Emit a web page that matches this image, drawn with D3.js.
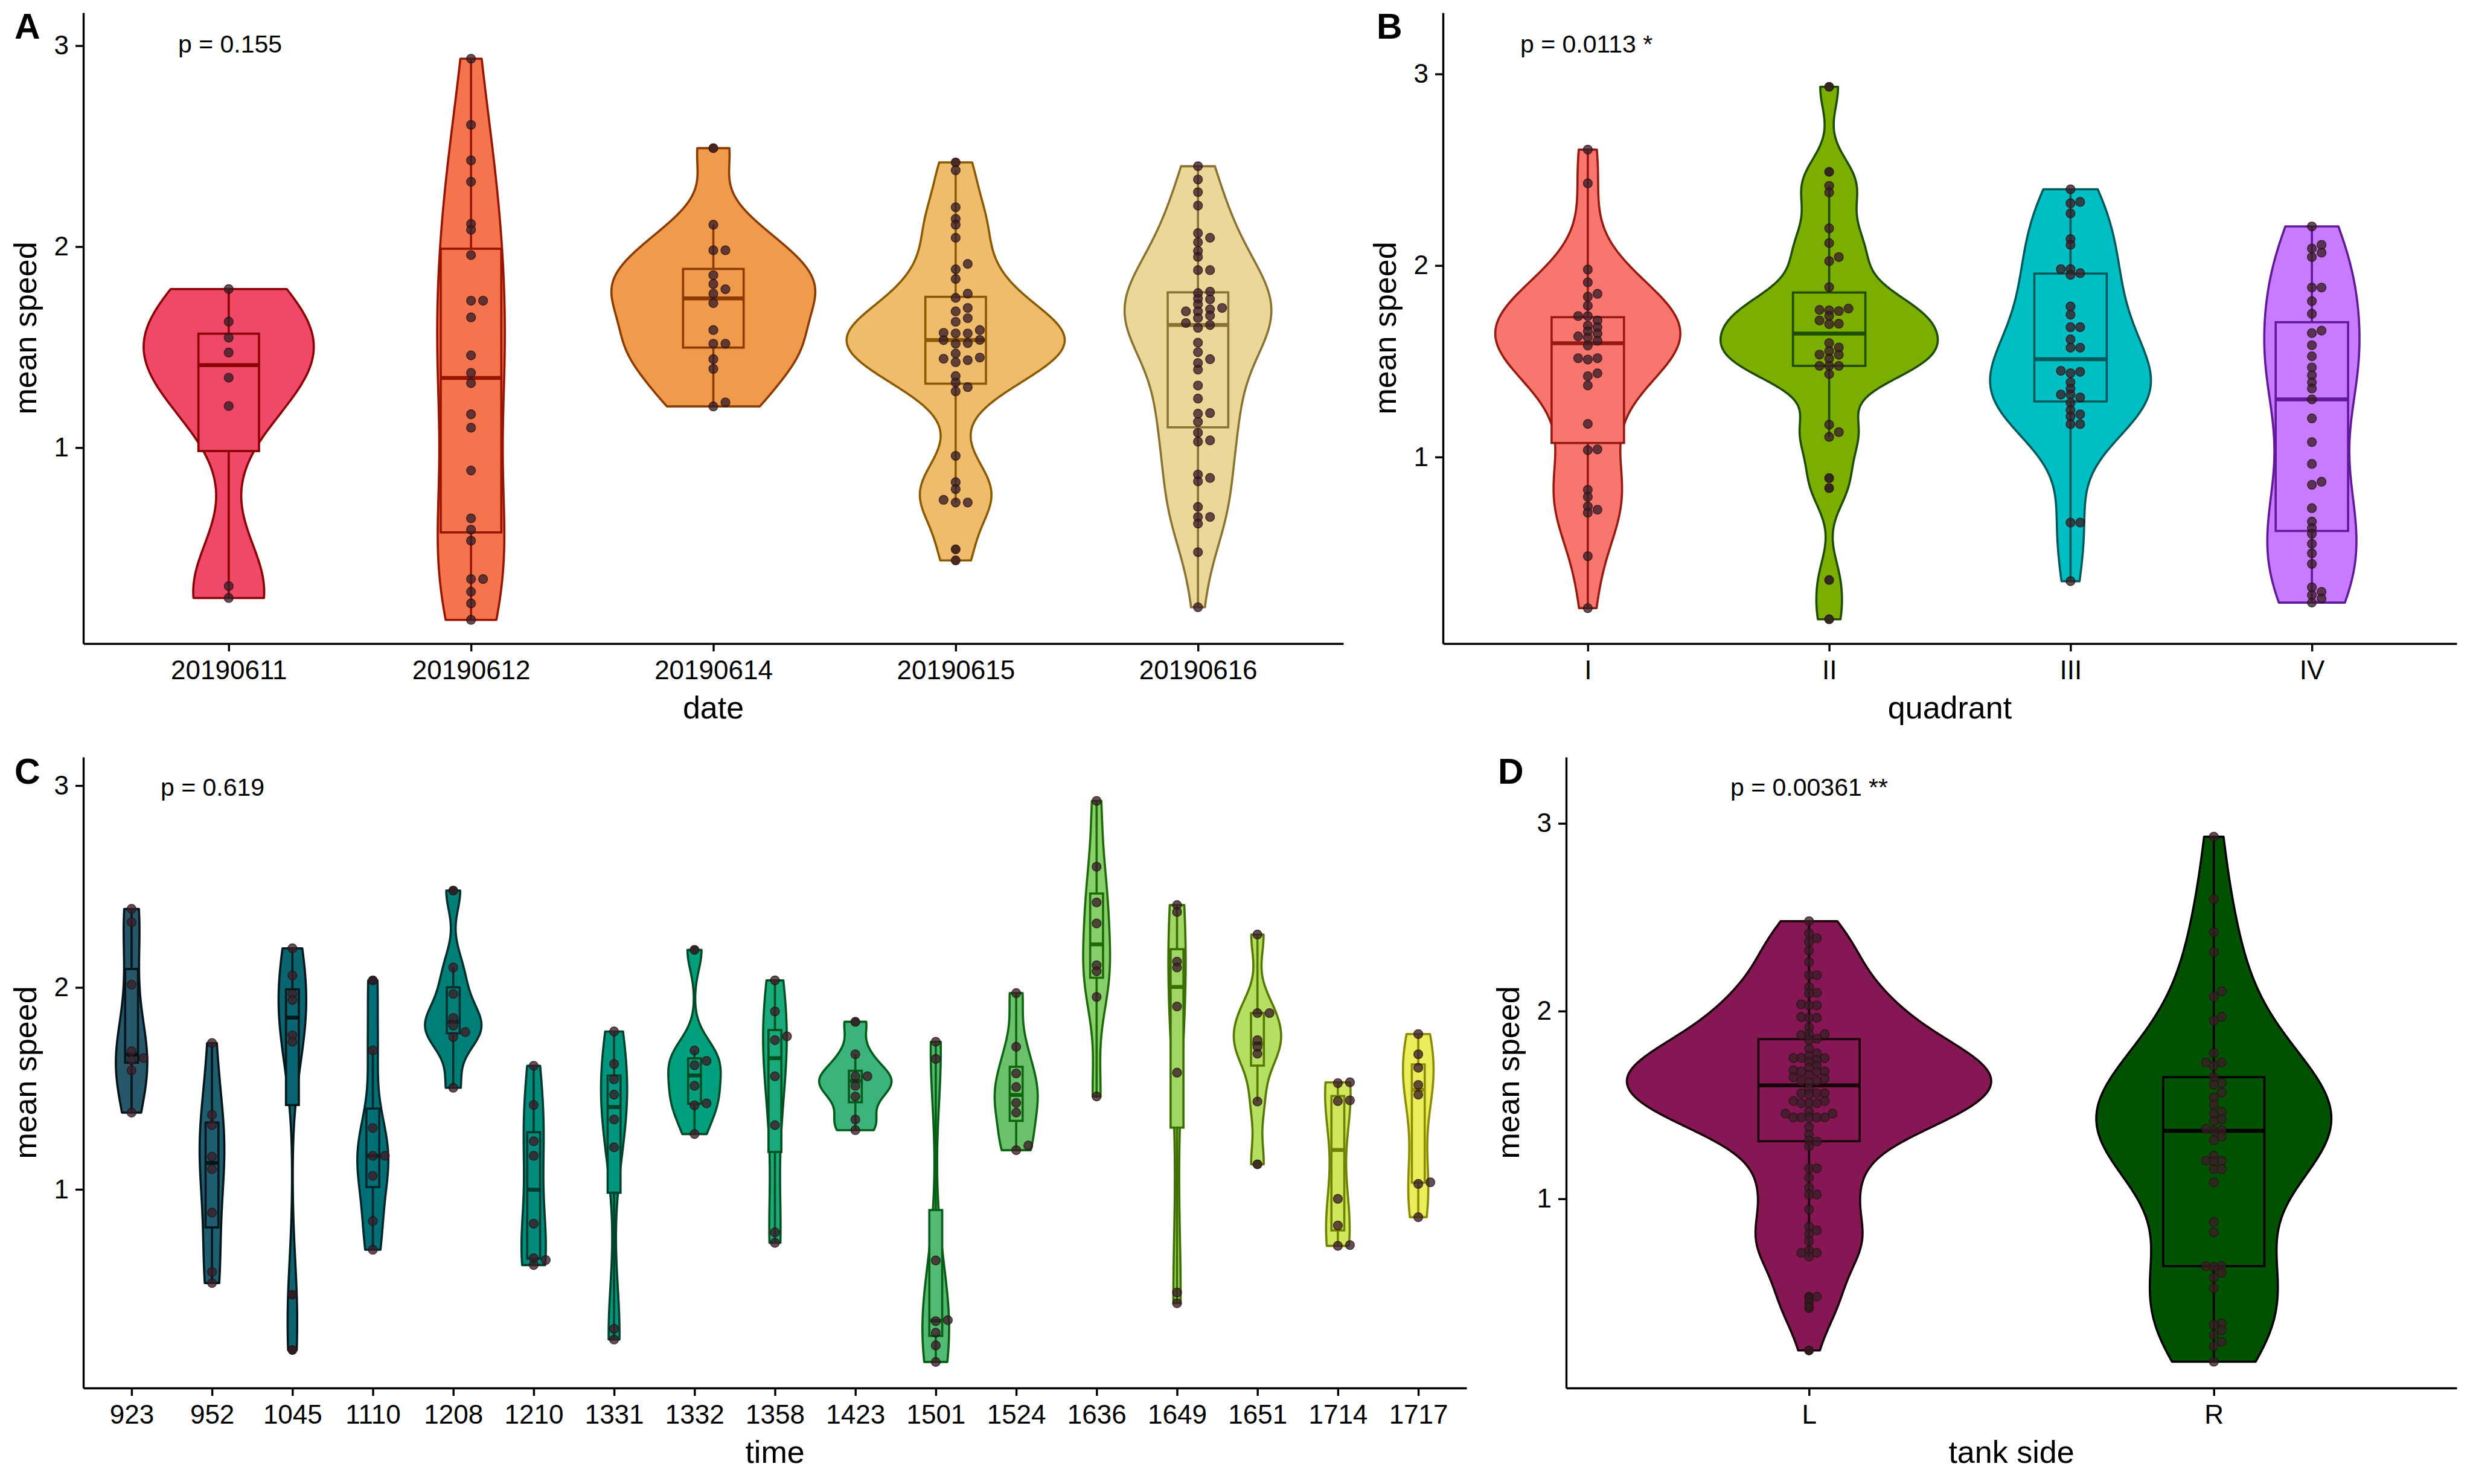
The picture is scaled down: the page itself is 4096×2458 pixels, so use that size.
<!DOCTYPE html>
<html><head><meta charset="utf-8">
<script src="https://cdn.jsdelivr.net/npm/d3@7"></script>
<style>body{margin:0;background:#fff}</style>
</head><body>
<svg id="chart" width="4096" height="2458" xmlns="http://www.w3.org/2000/svg"></svg>
<script>
// ---------------- DATA ----------------
const yTicks = [1, 2, 3];

const dateCats = ["20190611","20190612","20190614","20190615","20190616"];
const dateValues = [
  [1.789,1.627,1.547,1.473,1.348,1.207,0.311,0.252],
  [2.935,2.606,2.429,2.323,2.113,2.084,1.958,1.731,1.731,1.648,1.459,1.372,1.321,1.166,1.099,0.886,0.648,0.592,0.537,0.346,0.346,0.283,0.225,0.143],
  [2.490,2.109,1.982,1.982,1.858,1.814,1.788,1.766,1.719,1.585,1.517,1.517,1.440,1.392,1.225,1.205],
  [2.419,2.380,2.196,2.138,2.109,2.044,1.914,1.887,1.839,1.766,1.745,1.695,1.678,1.644,1.626,1.585,1.571,1.568,1.568,1.536,1.535,1.517,1.520,1.468,1.448,1.442,1.435,1.425,1.356,1.324,1.301,1.280,0.959,0.828,0.793,0.740,0.727,0.727,0.494,0.439],
  [2.400,2.334,2.271,2.204,2.067,2.044,2.022,1.979,1.949,1.883,1.883,1.776,1.769,1.741,1.738,1.713,1.695,1.688,1.678,1.678,1.657,1.645,1.620,1.610,1.596,1.522,1.475,1.440,1.421,1.388,1.309,1.244,1.172,1.169,1.128,1.074,1.036,1.030,0.866,0.849,0.832,0.705,0.655,0.655,0.622,0.480,0.206]
];

const quadCats = ["I","II","III","IV"];
const quadValues = [
  [2.605,2.429,1.979,1.912,1.852,1.837,1.790,1.736,1.736,1.713,1.686,1.678,1.657,1.645,1.630,1.624,1.607,1.582,1.516,1.516,1.509,1.437,1.422,1.374,1.173,1.040,1.036,0.829,0.792,0.742,0.725,0.709,0.482,0.211],
  [2.933,2.489,2.416,2.381,2.194,2.117,2.044,2.023,1.887,1.775,1.768,1.766,1.762,1.737,1.713,1.696,1.694,1.595,1.572,1.553,1.535,1.534,1.514,1.476,1.476,1.476,1.433,1.169,1.130,1.105,0.890,0.838,0.358,0.153],
  [2.398,2.332,2.325,2.272,2.138,2.108,1.981,1.981,1.960,1.951,1.786,1.743,1.678,1.678,1.614,1.571,1.571,1.450,1.445,1.438,1.390,1.356,1.326,1.326,1.311,1.283,1.245,1.223,1.212,1.172,1.172,0.658,0.658,0.352],
  [2.204,2.108,2.089,2.067,2.044,1.885,1.885,1.814,1.748,1.660,1.647,1.584,1.526,1.468,1.427,1.390,1.358,1.301,1.202,1.078,0.964,0.871,0.855,0.733,0.663,0.629,0.599,0.547,0.497,0.442,0.320,0.296,0.280,0.261,0.240]
];

const timeCats = ["923","952","1045","1110","1208","1210","1331","1332","1358","1423","1501","1524","1636","1649","1651","1714","1717"];
const timeValues = [
  [2.389,2.323,2.014,1.684,1.650,1.640,1.589,1.380],
  [1.725,1.369,1.318,1.162,1.100,0.885,0.591,0.536],
  [2.194,2.059,1.968,1.938,1.763,1.731,0.478,0.204],
  [2.035,1.688,1.304,1.166,1.166,1.067,0.843,0.701],
  [2.480,2.099,1.968,1.849,1.811,1.779,1.754,1.503],
  [1.612,1.418,1.238,1.166,0.830,0.659,0.650,0.625],
  [1.782,1.621,1.545,1.469,1.346,1.208,0.309,0.256],
  [2.186,1.688,1.636,1.615,1.513,1.426,1.416,1.274],
  [2.035,1.881,1.758,1.739,1.560,1.318,0.787,0.735],
  [1.830,1.669,1.560,1.560,1.513,1.460,1.346,1.293],
  [1.731,1.646,0.648,0.352,0.347,0.290,0.227,0.145],
  [1.972,1.706,1.574,1.507,1.428,1.380,1.217,1.194],
  [2.924,2.598,2.421,2.317,2.110,2.080,1.953,1.460],
  [2.408,2.374,2.128,2.099,1.906,1.578,0.489,0.436],
  [2.262,1.873,1.873,1.739,1.706,1.672,1.435,1.124],
  [1.530,1.526,1.441,1.437,0.953,0.821,0.724,0.720],
  [1.769,1.669,1.602,1.517,1.469,1.035,1.027,0.862]
];

const sideCats = ["L","R"];
const sideValues = [
  [2.479,2.414,2.388,2.369,2.322,2.261,2.191,2.191,2.128,2.097,2.093,2.036,2.030,2.030,1.968,1.964,1.964,1.913,1.877,1.877,1.872,1.852,1.845,1.800,1.775,1.760,1.750,1.750,1.750,1.740,1.730,1.709,1.700,1.685,1.678,1.678,1.678,1.660,1.648,1.640,1.627,1.627,1.621,1.587,1.562,1.562,1.562,1.556,1.521,1.521,1.509,1.509,1.509,1.464,1.454,1.454,1.433,1.433,1.433,1.433,1.433,1.382,1.342,1.311,1.305,1.280,1.162,1.162,1.113,1.060,1.023,1.023,0.943,0.851,0.831,0.811,0.774,0.725,0.712,0.712,0.692,0.478,0.478,0.447,0.418,0.192],
  [2.929,2.596,2.420,2.314,2.105,2.077,1.969,1.948,1.776,1.726,1.726,1.709,1.648,1.617,1.607,1.566,1.540,1.501,1.464,1.454,1.423,1.413,1.372,1.366,1.362,1.331,1.311,1.229,1.203,1.203,1.198,1.158,1.158,1.088,0.876,0.821,0.641,0.641,0.637,0.606,0.580,0.524,0.337,0.329,0.300,0.275,0.238,0.214,0.132]
];

const pLabels = ["p = 0.155", "p = 0.0113 *", "p = 0.619", "p = 0.00361 **"];
const xTitles = ["date", "quadrant", "time", "tank side"];
const yTitle = "mean speed";
const panelLetters = ["A", "B", "C", "D"];

// ---------------- STYLES ----------------
const dateFill = ["#EF4868","#F4754D","#F09A4C","#EEBC6B","#EAD898"];
const dateLine = ["#8B0000","#971400","#8B3A00","#8B5A00","#8A7332"];
const quadFill = ["#F8766D","#7CAE00","#00BFC4","#C77CFF"];
const quadLine = ["#961A10","#1E4D00","#005A5C","#62189A"];
const timeFill = ["#275869","#1D5E6F","#0A6570","#007077","#007F79","#008B7C","#00967F","#00A07E","#19AB7C","#3BB37A","#53BA74","#6BC26C","#86CF6B","#9FD664","#B5DF60","#CFE75B","#EBEE5B"];
const timeLine = ["#05141a","#04161c","#02181c","#00262a","#002f2c","#003a2e","#00412a","#004a26","#005020","#005a1a","#085e14","#0e6410","#1f6a08","#3a6e00","#567800","#708200","#8c8c00"];
const sideFill = ["#861755","#005200"];
const sideLine = ["#1a0008","#000000"];

const FONT = "'Liberation Sans', Arial, Helvetica, sans-serif";
const POINT_FILL = "#3a1e26";
const LW = 3.6, MEDW = 6.5;

const panels = [
  {cats: dateCats, vals: dateValues, fills: dateFill, lines: dateLine, x0: 138, x1: 2225, y0: 21, y1: 1066, ydom: [0.025, 3.164], boxW: 0.25, step: 20, lx: 24, ly: 64, px: 295, py: 87},
  {cats: quadCats, vals: quadValues, fills: quadFill, lines: quadLine, x0: 2390, x1: 4069, y0: 21, y1: 1066, ydom: [0.026, 3.32], boxW: 0.30, step: 16, lx: 2280, ly: 64, px: 2518, py: 87},
  {cats: timeCats, vals: timeValues, fills: timeFill, lines: timeLine, x0: 138, x1: 2429, y0: 1254, y1: 2299, ydom: [0.016, 3.141], boxW: 0.16, step: 20, lx: 24, ly: 1298, px: 266, py: 1318},
  {cats: sideCats, vals: sideValues, fills: sideFill, lines: sideLine, x0: 2594, x1: 4069, y0: 1254, y1: 2299, ydom: [-0.008, 3.353], boxW: 0.25, step: 13, lx: 2481, ly: 1298, px: 2866, py: 1318}
];

// ---------------- HELPERS ----------------
function kde(vals, n) {
  const s = vals.slice().sort(d3.ascending);
  const N = s.length;
  const sd = d3.deviation(s);
  const iqr = d3.quantileSorted(s, 0.75) - d3.quantileSorted(s, 0.25);
  let lo = Math.min(sd, iqr / 1.34);
  if (!(lo > 0)) lo = sd || Math.abs(s[0]) || 1;
  const bw = 0.9 * lo * Math.pow(N, -0.2);
  const mn = s[0], mx = s[N - 1];
  const out = [];
  const c = 1 / (N * bw * Math.sqrt(2 * Math.PI));
  for (let i = 0; i < n; i++) {
    const y = mn + (mx - mn) * i / (n - 1);
    let d = 0;
    for (const v of s) { const u = (y - v) / bw; d += Math.exp(-0.5 * u * u); }
    out.push([y, d * c]);
  }
  return out;
}
function boxStats(vals) {
  const s = vals.slice().sort(d3.ascending);
  const q1 = d3.quantileSorted(s, 0.25), med = d3.quantileSorted(s, 0.5), q3 = d3.quantileSorted(s, 0.75);
  const iqr = q3 - q1, lf = q1 - 1.5 * iqr, hf = q3 + 1.5 * iqr;
  return {q1, med, q3,
    wlo: d3.min(s.filter(v => v >= lf)), whi: d3.max(s.filter(v => v <= hf)),
    out: s.filter(v => v < lf || v > hf)};
}
function swarm(vals, y, step, vthr) {
  const idx = vals.map((v, i) => i).sort((a, b) => vals[a] - vals[b]);
  const placed = [], off = new Array(vals.length);
  const order = [0, 1, -1, 2, -2, 3, -3, 4, -4, 5, -5, 6, -6];
  for (const i of idx) {
    const py = y(vals[i]);
    const used = new Set(placed.filter(p => Math.abs(p.y - py) < vthr).map(p => p.s));
    let s = 0;
    for (const c of order) if (!used.has(c)) { s = c; break; }
    placed.push({y: py, s});
    off[i] = s * step;
  }
  return off;
}

// ---------------- DRAW ----------------
const svg = d3.select("#chart");
svg.append("rect").attr("width", 4096).attr("height", 2458).attr("fill", "#fff");

panels.forEach((P, pi) => {
  const g = svg.append("g");
  const x = d3.scalePoint().domain(P.cats).range([P.x0, P.x1]).padding(0.6);
  const y = d3.scaleLinear().domain(P.ydom).range([P.y1, P.y0]);
  const band = x.step();

  // densities, area-scaled over the panel
  const dens = P.vals.map(v => kde(v, 512));
  const maxD = d3.max(dens, d => d3.max(d, e => e[1]));
  const half = 0.9 * band / 2;

  const line = d3.line().x(d => d[0]).y(d => d[1]);
  P.cats.forEach((c, i) => {
    const cx = x(c);
    const right = dens[i].map(d => [cx + d[1] / maxD * half, y(d[0])]);
    const left = dens[i].slice().reverse().map(d => [cx - d[1] / maxD * half, y(d[0])]);
    g.append("path").attr("d", line(right.concat(left)) + "Z")
      .attr("fill", P.fills[i]).attr("stroke", P.lines[i]).attr("stroke-width", LW)
      .attr("stroke-linejoin", "round");
  });

  // boxplots
  P.cats.forEach((c, i) => {
    const cx = x(c), st = boxStats(P.vals[i]);
    const bw = P.boxW * band;
    const gb = g.append("g").attr("stroke", P.lines[i]);
    gb.append("line").attr("x1", cx).attr("x2", cx).attr("y1", y(st.q3)).attr("y2", y(st.whi)).attr("stroke-width", LW);
    gb.append("line").attr("x1", cx).attr("x2", cx).attr("y1", y(st.q1)).attr("y2", y(st.wlo)).attr("stroke-width", LW);
    gb.append("rect").attr("x", cx - bw / 2).attr("width", bw)
      .attr("y", y(st.q3)).attr("height", y(st.q1) - y(st.q3))
      .attr("fill", P.fills[i]).attr("stroke-width", LW);
    gb.append("line").attr("x1", cx - bw / 2).attr("x2", cx + bw / 2)
      .attr("y1", y(st.med)).attr("y2", y(st.med)).attr("stroke-width", MEDW);
    st.out.forEach(v => {
      g.append("circle").attr("cx", cx).attr("cy", y(v)).attr("r", 7.4).attr("fill", P.lines[i]);
    });
  });

  // points
  P.cats.forEach((c, i) => {
    const cx = x(c);
    const off = swarm(P.vals[i], y, P.step, 9);
    g.append("g").selectAll("circle").data(P.vals[i]).join("circle")
      .attr("cx", (d, j) => cx + off[j]).attr("cy", d => y(d)).attr("r", 7.4)
      .attr("fill", POINT_FILL).attr("fill-opacity", 0.78)
      .attr("stroke", "#2a1018").attr("stroke-opacity", 0.8).attr("stroke-width", 1.4);
  });

  // axes
  const ax = g.append("g").attr("transform", `translate(0,${P.y1})`)
    .call(d3.axisBottom(x).tickSize(13).tickPadding(13).tickSizeOuter(0));
  const ay = g.append("g").attr("transform", `translate(${P.x0},0)`)
    .call(d3.axisLeft(y).tickValues(yTicks).tickFormat(d3.format("d")).tickSize(13).tickPadding(11).tickSizeOuter(0));
  [ax, ay].forEach(a => {
    a.attr("font-family", FONT).attr("font-size", 44);
    a.selectAll("path,line").attr("stroke", "#000").attr("stroke-width", 3.4);
    a.selectAll("text").attr("fill", "#000");
  });
  ax.selectAll("text").attr("dy", "0.74em");

  // titles
  g.append("text").attr("x", (P.x0 + P.x1) / 2).attr("y", P.y1 + 124)
    .attr("text-anchor", "middle").attr("font-family", FONT).attr("font-size", 52)
    .text(xTitles[pi]);
  g.append("text").attr("transform", `translate(${P.x0 - 78},${(P.y0 + P.y1) / 2}) rotate(-90)`)
    .attr("text-anchor", "middle").attr("font-family", FONT).attr("font-size", 52)
    .text(yTitle);
  g.append("text").attr("x", P.px).attr("y", P.py).attr("font-family", FONT).attr("font-size", 41)
    .text(pLabels[pi]);
  g.append("text").attr("x", P.lx).attr("y", P.ly).attr("font-family", FONT).attr("font-size", 59)
    .attr("font-weight", "bold").text(panelLetters[pi]);
});
</script>
</body></html>
